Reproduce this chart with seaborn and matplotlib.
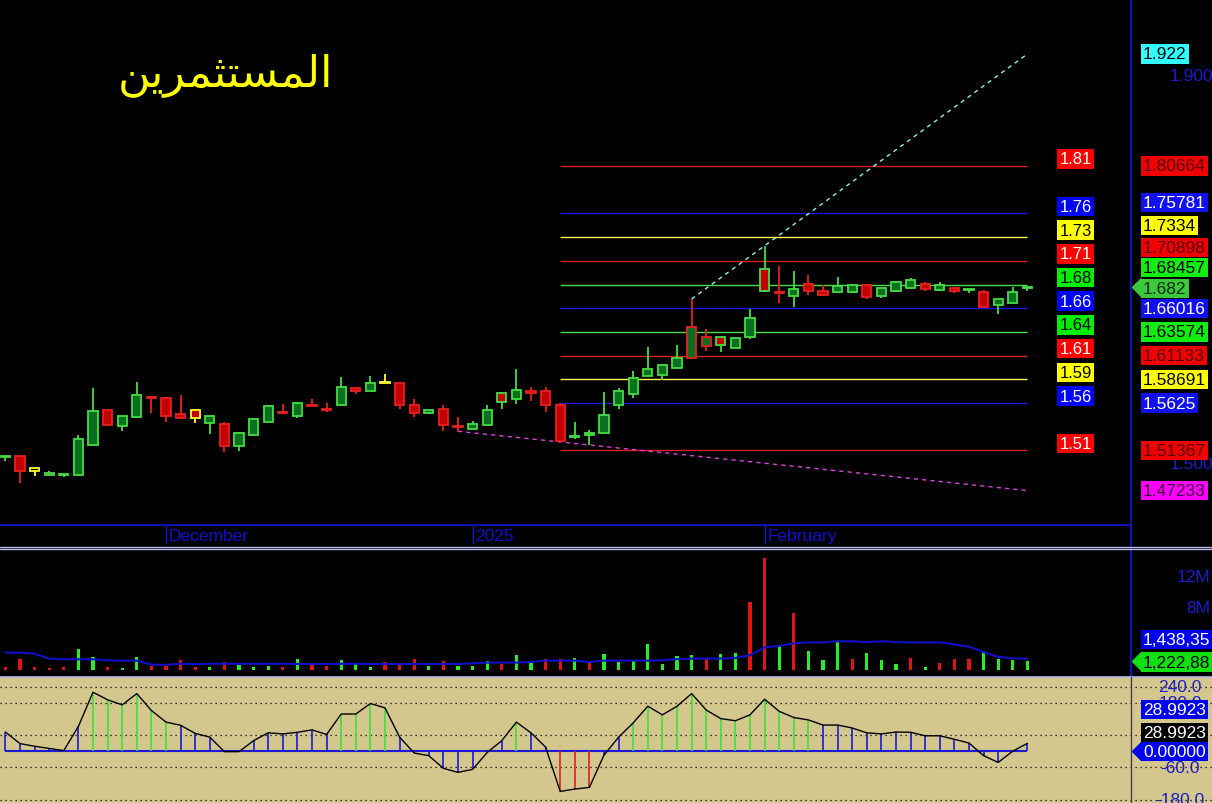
import matplotlib
matplotlib.use("Agg")
import matplotlib.pyplot as plt
from matplotlib.lines import Line2D
from matplotlib.patches import Rectangle
import numpy as np
import pandas as pd
import seaborn as sns

# ---------------- data ----------------
opens = [1.507, 1.508, 1.496, 1.490, 1.488, 1.488, 1.519, 1.555, 1.539, 1.548,
         1.569, 1.568, 1.551, 1.555, 1.542, 1.541, 1.518, 1.530, 1.543, 1.553,
         1.549, 1.560, 1.556, 1.560, 1.578, 1.575, 1.583, 1.583, 1.560, 1.552,
         1.556, 1.539, 1.536, 1.540, 1.564, 1.567, 1.575, 1.575, 1.560, 1.528,
         1.530, 1.532, 1.560, 1.572, 1.590, 1.591, 1.599, 1.609, 1.621, 1.630,
         1.619, 1.631, 1.701, 1.677, 1.673, 1.685, 1.678, 1.677, 1.677, 1.684,
         1.673, 1.678, 1.681, 1.685, 1.679, 1.681, 1.679, 1.677, 1.663, 1.666,
         1.681]
highs = [1.508, 1.508, 1.496, 1.492, 1.489, 1.530, 1.578, 1.556, 1.549, 1.584,
         1.569, 1.569, 1.571, 1.555, 1.549, 1.543, 1.533, 1.546, 1.559, 1.562,
         1.564, 1.567, 1.5625, 1.589, 1.578, 1.590, 1.592, 1.583, 1.567, 1.555,
         1.560, 1.548, 1.544, 1.560, 1.573, 1.598, 1.579, 1.579, 1.563, 1.543,
         1.535, 1.574, 1.578, 1.595, 1.620, 1.603, 1.622, 1.670, 1.639, 1.630,
         1.631, 1.659, 1.724, 1.704, 1.698, 1.694, 1.684, 1.692, 1.685, 1.685,
         1.681, 1.688, 1.691, 1.687, 1.687, 1.681, 1.680, 1.679, 1.670, 1.682,
         1.682]
lows = [1.503, 1.480, 1.487, 1.487, 1.486, 1.488, 1.519, 1.539, 1.534, 1.548,
        1.552, 1.543, 1.547, 1.542, 1.531, 1.512, 1.513, 1.530, 1.543, 1.551,
        1.547, 1.559, 1.553, 1.560, 1.572, 1.575, 1.583, 1.556, 1.548, 1.551,
        1.534, 1.533, 1.536, 1.540, 1.556, 1.562, 1.565, 1.553, 1.522, 1.525,
        1.519, 1.532, 1.556, 1.568, 1.590, 1.586, 1.599, 1.609, 1.616, 1.615,
        1.619, 1.628, 1.677, 1.666, 1.661, 1.674, 1.674, 1.677, 1.676, 1.670,
        1.671, 1.677, 1.680, 1.678, 1.679, 1.676, 1.676, 1.661, 1.654, 1.666,
        1.678]
closes = [1.508, 1.493, 1.493, 1.488, 1.489, 1.525, 1.554, 1.540, 1.549, 1.571,
          1.568, 1.549, 1.547, 1.547, 1.549, 1.518, 1.532, 1.546, 1.559, 1.552,
          1.5625, 1.559, 1.555, 1.579, 1.575, 1.583, 1.583, 1.560, 1.552, 1.555,
          1.540, 1.538, 1.541, 1.555, 1.573, 1.576, 1.573, 1.560, 1.523, 1.529,
          1.532, 1.550, 1.575, 1.588, 1.598, 1.602, 1.609, 1.641, 1.630, 1.622,
          1.629, 1.650, 1.678, 1.676, 1.680, 1.678, 1.674, 1.683, 1.684, 1.672,
          1.681, 1.687, 1.689, 1.680, 1.684, 1.678, 1.680, 1.661, 1.670, 1.677,
          1.682]
# candle outline / fill colour codes: g=up, r=down, y=yellow, k=empty
candle_edge = "grygg" "ggrgg" "rrryg" "rgggr" "grrgr" "gyrrg" "rrggg" "grrrg" \
              "ggggg" "ggrrg" "gggrg" "rrggr" "gggrg" "rgr" "ggg"
candle_fill = "grkrg" "ggrgg" "rrrrg" "rgggr" "grrgr" "gyrrg" "rrggr" "grrrg" \
              "ggggg" "ggggr" "ggrrg" "rrggr" "gggrg" "rgr" "ggg"

volume_m = [0.43, 1.38, 0.34, 0.26, 0.34, 2.67, 1.63, 0.43, 0.26, 1.63,
            0.52, 0.52, 1.29, 0.43, 0.34, 1.03, 0.60, 0.34, 0.52, 0.34,
            1.38, 0.95, 0.52, 1.29, 0.86, 0.34, 1.03, 0.95, 1.46, 0.52,
            1.20, 0.52, 0.52, 1.20, 0.77, 1.98, 0.86, 1.46, 1.46, 1.55,
            1.20, 2.06, 1.03, 1.29, 3.35, 0.77, 1.80, 1.89, 1.55, 2.06,
            2.15, 8.77, 14.4, 3.18, 7.40, 2.50, 1.29, 3.60, 1.46, 2.24,
            1.29, 0.77, 1.55, 0.43, 0.95, 1.38, 1.46, 2.40, 1.46, 1.29,
            1.22]
volume_dir = "rrrrr" "ggrgg" "rrrrg" "rgggr" "grrgg" "grrrg" "rgggr" "ggrrg" \
             "rgggg" "gggrg" "grrgr" "gggrg" "ggrgr" "rrggg" "g"
volume_ma_m = [2.24, 2.24, 2.10, 1.45, 1.38, 1.38, 1.38, 1.25, 1.20, 1.20,
               0.70, 0.65, 0.80, 0.75, 0.80, 0.80, 0.80, 0.80, 0.80, 0.80,
               0.77, 0.77, 0.77, 0.80, 0.80, 0.77, 0.77, 0.77, 0.77, 0.77,
               0.77, 0.77, 0.86, 0.95, 0.95, 0.95, 1.03, 1.20, 1.20, 1.20,
               1.03, 1.20, 1.20, 1.20, 1.20, 1.25, 1.40, 1.46, 1.46, 1.46,
               1.55, 1.90, 2.90, 3.10, 3.44, 3.55, 3.55, 3.70, 3.70, 3.60,
               3.70, 3.60, 3.55, 3.55, 3.55, 3.30, 3.00, 2.30, 1.70, 1.50,
               1.43835]
oscillator = [71, 28, 18, 10, 2, 92, 219, 191, 172, 214,
              151, 108, 96, 66, 52, -2, -2, 39, 68, 64,
              70, 79, 62, 138, 138, 177, 161, 52, -7, -17,
              -64, -79, -68, -5, 39, 108, 68, 15, -150, -141,
              -135, -15, 52, 105, 167, 135, 167, 214, 153, 121,
              113, 135, 193, 148, 125, 116, 97, 97, 86, 68,
              64, 71, 70, 57, 57, 44, 30, -17, -42, 0,
              28.9923]

date_tick_pos = [11, 32, 52]
date_tick_labels = ["December", "2025", "February"]

gann_levels = [1.80664, 1.75781, 1.7334, 1.70898, 1.68457, 1.66016,
               1.63574, 1.61133, 1.58691, 1.5625, 1.51367]
gann_kind = ["r", "b", "y", "r", "g", "b", "g", "r", "y", "b", "r"]
gann_from, gann_to = 38, 70
trend_up_x, trend_up_y = [47, 70], [1.6696, 1.922]
trend_dn_x, trend_dn_y = [31, 70], [1.5334, 1.47233]
price_axis_ticks = [1.900, 1.500]
volume_axis_ticks = [12, 8]
osc_grid = [240, 180, 60, -60, -180]
osc_axis_ticks = [240, 180, -60, -180]
title_text = "المستثمرين"

# ---------------- styling / layout ----------------
W, H = 1212, 804
X0, DX = 5.4, 14.6          # pixel position of first bar and bar spacing
RIGHT = 1131                # right edge of plotting area (px)
PT = 0.72                   # points per pixel at dpi 100
TAN = "#d3c78e"
BLUE_TXT = "#1c1cc8"
EDGE = {"g": "#45dc45", "r": "#e82020", "y": "#ffff30"}
FILL = {"g": "#0b6e20", "r": "#c30000", "y": "#ffff30", "k": "#000000"}
LINE = {"r": "#d82020", "b": "#1818e0", "y": "#ffff55", "g": "#48dc48"}
BOX = {"r": ("#ff0000", "white"), "b": ("#0000ff", "white"),
       "y": ("#ffff00", "black"), "g": ("#00ee00", "black")}
RBOX = {"r": ("#f00000", "#5a0000"), "b": ("#1010f0", "white"),
        "y": ("#ffff00", "black"), "g": ("#10ee10", "black"),
        "c": ("#30ffff", "black"), "m": ("#ff00ff", "#400040")}

sns.set_style("dark")
plt.rcParams["font.family"] = ["Liberation Sans", "DejaVu Sans"]

n = len(closes)
idx = np.arange(n)
df = pd.DataFrame({"i": idx, "o": opens, "h": highs, "l": lows, "c": closes,
                   "edge": list(candle_edge), "fill": list(candle_fill),
                   "vol": volume_m, "vdir": list(volume_dir),
                   "vma": volume_ma_m, "osc": oscillator})

fig = plt.figure(figsize=(W / 100, H / 100), dpi=100, facecolor="black")


def add_ax(x0, y0, x1, y1, fc):
    ax = fig.add_axes([x0 / W, 1 - y1 / H, (x1 - x0) / W, (y1 - y0) / H])
    ax.set_facecolor(fc)
    for s in ax.spines.values():
        s.set_visible(False)
    ax.set_xticks([])
    ax.set_yticks([])
    ax.grid(False)
    ax.set_xlim(-X0 / DX, (x1 - X0) / DX)
    return ax


def fig_line(x0, y0, x1, y1, color, lw=1.0, z=20):
    fig.add_artist(Line2D([x0 / W, x1 / W], [1 - y0 / H, 1 - y1 / H],
                          transform=fig.transFigure, color=color, lw=lw, zorder=z))


def side_label(ax, y, text, x_px, dy_px=0, fc=None, tc="white", fs=12.5,
               ha="left", arrow=False, z=6):
    bbox = dict(boxstyle="square,pad=0.12", fc=fc, ec="none") if fc else None
    ax.annotate(text, xy=(1.0, y), xycoords=("axes fraction", "data"),
                xytext=(x_px * PT, dy_px * PT), textcoords="offset points",
                ha=ha, va="center", color=tc, fontsize=fs, bbox=bbox,
                annotation_clip=False, zorder=z)
    if arrow:
        ax.plot([1.0], [y], marker=[(0, 0), (1, -1), (1, 1)], ms=14.5,
                color=fc, mec="none", transform=ax.get_yaxis_transform(),
                clip_on=False, zorder=z)


# tan background of oscillator strip
fig.add_artist(Rectangle((0, 0), 1, (H - 678) / H, transform=fig.transFigure,
                         fc=TAN, ec="none", zorder=-5))

# ---------------- price panel ----------------
axp = add_ax(0, 0, RIGHT, 526, "black")
axp.set_ylim(1.4369, 1.9786)

for lev, k in zip(gann_levels, gann_kind):
    axp.hlines(lev, gann_from, gann_to, color=LINE[k], lw=1.0, zorder=1)
    fc, tc = BOX[k]
    axp.annotate(f"{lev:.2f}", xy=(72, lev), xytext=(2, 7 * PT),
                 textcoords="offset points", ha="left", va="center",
                 color=tc, fontsize=12, annotation_clip=False,
                 bbox=dict(boxstyle="square,pad=0.14", fc=fc, ec="none"), zorder=6)

sns.lineplot(x=trend_up_x, y=trend_up_y, ax=axp, color="#8ff0f0", lw=1.0,
             linestyle=(0, (3, 3)), zorder=2, legend=False)
sns.lineplot(x=trend_dn_x, y=trend_dn_y, ax=axp, color="#e040e0", lw=1.0,
             linestyle=(0, (3, 3)), zorder=2, legend=False)

ecol = df["edge"].map(EDGE)
fcol = df["fill"].map(FILL)
axp.vlines(df["i"], df["l"], df["h"], colors=ecol, lw=1.3, zorder=3)
body_lo = np.minimum(df["o"], df["c"])
body_h = np.maximum((df["c"] - df["o"]).abs(), 0.0007)
axp.bar(df["i"], body_h, bottom=body_lo, width=0.64, color=fcol,
        edgecolor=ecol, linewidth=1.3, zorder=4)
axp.set_xlabel("")
axp.set_ylabel("")

# date strip
axp.vlines(date_tick_pos, 0, -19 / 526, transform=axp.get_xaxis_transform(),
           colors="#1818d0", lw=1.0, clip_on=False)
for pos, lab in zip(date_tick_pos, date_tick_labels):
    axp.annotate(lab, xy=(pos, 0), xycoords=("data", "axes fraction"),
                 xytext=(3 * PT, -10.5 * PT), textcoords="offset points",
                 ha="left", va="center", color="#1010d0", fontsize=12.5,
                 annotation_clip=False)

# right price axis
for v in price_axis_ticks:
    side_label(axp, v, f"{v:.3f}", 39, tc=BLUE_TXT, z=4)
right_labels = [(trend_up_y[-1], "c", 0)]
label_dy = [0, 11, 12, 13, 17, 0, 0, 0, 0, 0, 0]
for lev, k, dy in zip(gann_levels, gann_kind, label_dy):
    right_labels.append((lev, k, dy))
right_labels.append((trend_dn_y[-1], "m", 0))
for v, k, dy in right_labels:
    fc, tc = RBOX[k]
    side_label(axp, v, f"{v:.5f}".rstrip("0"), 12, dy, fc=fc, tc=tc)
side_label(axp, closes[-1], f"{closes[-1]:.3f}", 12, -1.5, fc="#3cc83c",
           tc="#0a2a0a", arrow=True, z=7)

# title (Arabic shown with its joined letter forms, right to left)
fig.text(225 / W, 1 - 75 / H,
         "\uFEE6\uFEF3\uFEAE\uFEE4\uFE9C\uFE98\uFEB4\uFEE4\uFEDF\uFE8D",
         color="#ffff00", fontsize=32, ha="center", va="center",
         family=["DejaVu Sans"])

# ---------------- volume panel ----------------
axv = add_ax(0, 550, RIGHT, 676, "black")
axv.set_ylim(-0.65, 15.6)
axv.bar(df["i"], df["vol"], width=0.21,
        color=df["vdir"].map({"g": "#28ee28", "r": "#dd1515"}),
        edgecolor="none", linewidth=0, zorder=2)
sns.lineplot(data=df, x="i", y="vma", ax=axv, color="#1010c8", lw=1.5,
             zorder=3, legend=False)
axv.set_xlabel("")
axv.set_ylabel("")
for v in volume_axis_ticks:
    side_label(axv, v, f"{v}M", 79, tc=BLUE_TXT, ha="right")
side_label(axv, volume_ma_m[-1], "1,438,35", 12, 19, fc="#0000f0", tc="white")
side_label(axv, volume_m[-1], "1,222,88", 12, -1.5, fc="#10e010", tc="black",
           arrow=True)

# ---------------- oscillator panel ----------------
axo = add_ax(0, 679, RIGHT, 804, TAN)
axo.set_ylim(-193, 272)
axo.hlines(osc_grid, 0, W / RIGHT, transform=axo.get_yaxis_transform(),
           colors="black", lw=0.9, linestyles=[(0, (1, 3))], clip_on=False, zorder=1)
axo.hlines(0, 0, n - 1, colors="#1a1ad8", lw=1.5, zorder=2)
stem_col = np.where(df["osc"] > 100, "#3ee03e",
                    np.where(df["osc"] < -100, "#e02020", "#1a1ad8"))
axo.vlines(df["i"], 0, df["osc"], colors=stem_col, lw=1.2, zorder=3)
sns.lineplot(data=df, x="i", y="osc", ax=axo, color="black", lw=1.0,
             zorder=4, legend=False)
axo.set_xlabel("")
axo.set_ylabel("")
for v in osc_axis_ticks:
    side_label(axo, v, f"{v:.1f}", 49, tc=BLUE_TXT, ha="center", fs=12.5, z=3)
side_label(axo, oscillator[-1], f"{oscillator[-1]:.4f}", 12, 34, fc="#0000f0", tc="white")
side_label(axo, oscillator[-1], f"{oscillator[-1]:.4f}", 12, 11, fc="black", tc="white")
side_label(axo, 0, "0.00000", 12, 0, fc="#0000f0", tc="white", arrow=True)

# ---------------- frame lines ----------------
fig_line(RIGHT, 0, RIGHT, 677, "#1515c8", 1.3)
fig_line(0, 526, RIGHT, 526, "#1515c8", 1.3)
fig_line(0, 547.5, W, 547.5, "#b8b8e8", 1.0)
fig_line(0, 550, W, 550, "#b8b8e8", 1.0)
fig_line(0, 677.5, W, 677.5, "#b8b8e8", 1.2)
fig_line(RIGHT, 678, RIGHT, H, "#404060", 1.0)

fig.savefig("out.png", dpi=100, facecolor="black")
